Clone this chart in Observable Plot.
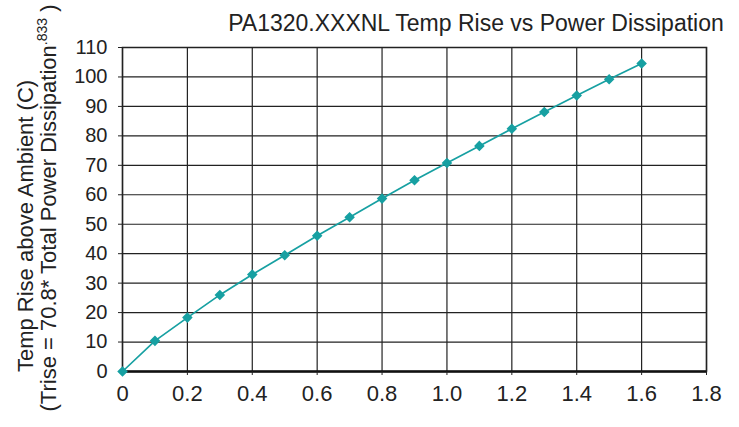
<!DOCTYPE html>
<html><head><meta charset="utf-8">
<script src="https://cdn.jsdelivr.net/npm/d3@7"></script>
<script src="https://cdn.jsdelivr.net/npm/@observablehq/plot@0.6"></script>
<style>
body{margin:0;background:#fff;}
#chart svg{display:block;}
</style>
</head><body><div id="chart"></div>
<script>
const powerW = [0, 0.1, 0.2, 0.3, 0.4, 0.5, 0.6, 0.7, 0.8, 0.9, 1.0, 1.1, 1.2, 1.3, 1.4, 1.5, 1.6];
const tempRiseC = [0, 10.4, 18.3, 26.0, 32.9, 39.5, 46.1, 52.4, 58.7, 64.9, 70.8, 76.6, 82.4, 88.1, 93.7, 99.2, 104.6];
const xTicks = [0, 0.2, 0.4, 0.6, 0.8, 1.0, 1.2, 1.4, 1.6, 1.8];
const yTicks = [0, 10, 20, 30, 40, 50, 60, 70, 80, 90, 100, 110];
const title = "PA1320.XXXNL Temp Rise vs Power Dissipation";
const yLabel1 = "Temp Rise above Ambient (C)";
const yLabel2a = "(Trise = 70.8* Total Power Dissipation";
const yLabel2sup = ".833";
const yLabel2b = " )";

const data = powerW.map((x, i) => ({x, y: tempRiseC[i]}));
const teal = "#17a0a2";
const font = "Liberation Sans, Arial, sans-serif";
const W = 739, H = 427;
const mL = 122, mR = 33, mT = 47, mB = 56;

const chart = Plot.plot({
  width: W, height: H,
  marginLeft: mL, marginRight: mR, marginTop: mT, marginBottom: mB,
  style: {fontFamily: font, background: "#fff"},
  x: {domain: [0, 1.8], ticks: xTicks},
  y: {domain: [0, 110], ticks: yTicks},
  marks: [
    Plot.gridX(xTicks, {stroke: "#222", strokeOpacity: 1, strokeWidth: 1.2}),
    Plot.gridY(yTicks, {stroke: "#222", strokeOpacity: 1, strokeWidth: 1.2}),
    Plot.frame({stroke: "#222", strokeWidth: 1.5}),
    Plot.ruleY([0], {stroke: "#111", strokeWidth: 2.5}),
    Plot.axisX({ticks: xTicks, tickSize: 4, tickPadding: 10, fontSize: 22, fill: "#222", stroke: "#222", label: null,
      tickFormat: d => d === 1 ? "1.0" : String(d)}),
    Plot.axisY({ticks: yTicks, tickSize: 4, tickPadding: 11, fontSize: 20, fill: "#222", stroke: "#222", label: null}),
    Plot.line(data, {x: "x", y: "y", stroke: teal, strokeWidth: 1.7}),
    Plot.dot(data, {x: "x", y: "y", symbol: "diamond2", r: 3.8, fill: teal, stroke: teal})
  ]
});

const svg = d3.select(chart);
svg.selectAll('g[aria-label="x-axis tick label"]').attr("font-size", 22).style("font-size", "22px");
svg.selectAll('g[aria-label="y-axis tick label"]').attr("font-size", 20).style("font-size", "20px");

svg.append("text")
  .attr("x", 476).attr("y", 31)
  .attr("text-anchor", "middle")
  .attr("font-family", font)
  .attr("font-size", 23).attr("fill", "#222")
  .text(title);

svg.append("text")
  .attr("transform", `translate(33,226) rotate(-90)`)
  .attr("text-anchor", "middle")
  .attr("font-family", font)
  .attr("font-size", 22).attr("fill", "#222")
  .text(yLabel1);
const t2 = svg.append("text")
  .attr("transform", `translate(56,208) rotate(-90)`)
  .attr("text-anchor", "middle")
  .attr("font-family", font)
  .attr("font-size", 22).attr("fill", "#222");
t2.append("tspan").text(yLabel2a);
t2.append("tspan").attr("font-size", 14).attr("dy", -9).text(yLabel2sup);
t2.append("tspan").attr("dy", 9).text(yLabel2b);

document.getElementById("chart").appendChild(chart);
</script>
</body></html>
